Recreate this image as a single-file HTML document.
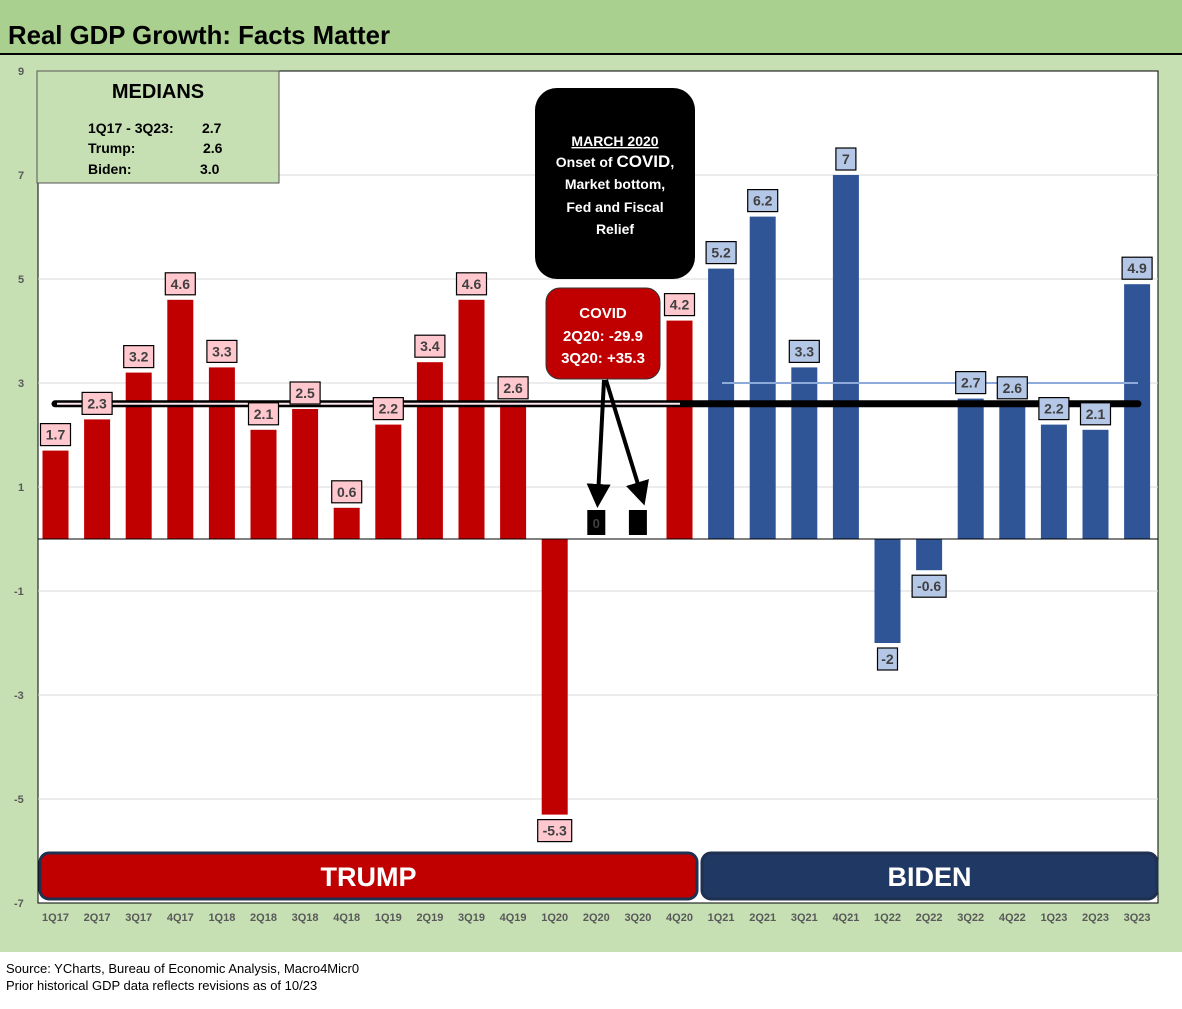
<!DOCTYPE html>
<html><head><meta charset="utf-8">
<style>
html,body{margin:0;padding:0;background:#fff;}
body{width:1182px;height:1004px;overflow:hidden;font-family:"Liberation Sans",sans-serif;}
svg text{font-family:"Liberation Sans",sans-serif;}
</style></head>
<body>
<svg id="chart" width="1182" height="1004" xmlns="http://www.w3.org/2000/svg">
<rect x="0" y="0" width="1182" height="54" fill="#a9d08e"/>
<line x1="0" y1="54" x2="1182" y2="54" stroke="#000" stroke-width="2"/>
<text x="8" y="44" font-size="26" font-weight="bold" fill="#000" textLength="382" lengthAdjust="spacingAndGlyphs">Real GDP Growth: Facts Matter</text>
<rect x="0" y="55" width="1182" height="897" fill="#c6e0b4"/>
<rect x="38" y="71" width="1120" height="832" fill="#fff" stroke="#000" stroke-width="1"/>
<g id="grid"></g><g id="bars"></g>
<text x="6" y="973" font-size="13" fill="#000">Source: YCharts, Bureau of Economic Analysis, Macro4Micr0</text>
<text x="6" y="990" font-size="13" fill="#000">Prior historical GDP data reflects revisions as of 10/23</text>
</svg>
<script>
const categories=["1Q17","2Q17","3Q17","4Q17","1Q18","2Q18","3Q18","4Q18","1Q19","2Q19","3Q19","4Q19","1Q20","2Q20","3Q20","4Q20","1Q21","2Q21","3Q21","4Q21","1Q22","2Q22","3Q22","4Q22","1Q23","2Q23","3Q23"];
const gdpValues=[1.7,2.3,3.2,4.6,3.3,2.1,2.5,0.6,2.2,3.4,4.6,2.6,-5.3,null,null,4.2,5.2,6.2,3.3,7,-2,-0.6,2.7,2.6,2.2,2.1,4.9];
const yTicks=[9,7,5,3,1,-1,-3,-5,-7];
const trumpMedian=2.6, bidenMedian=3.0;
const NS="http://www.w3.org/2000/svg";
const svg=document.getElementById('chart');
const grid=document.getElementById('grid'), barsG=document.getElementById('bars');
function y(v){return 539-52*v;}
function x(i){return 55.5+41.6*i;}
function mk(tag,attrs,parent){const e=document.createElementNS(NS,tag);for(const k in attrs)e.setAttribute(k,attrs[k]);(parent||svg).appendChild(e);return e;}
yTicks.forEach(t=>{
  if(t!==9&&t!==-7){const l=mk('line',{x1:38,x2:1158,y1:y(t),y2:y(t),stroke:'#d9d9d9','stroke-width':1},grid);
  
  }
  const tx=mk('text',{x:t<0?14:18,y:y(t)+4,'font-size':11,'font-weight':'bold',fill:'#595959'},grid);
  tx.textContent=t;
  
  
});
categories.forEach((c,i)=>{
  const tx=mk('text',{x:x(i),y:921,'font-size':11,'font-weight':'bold',fill:'#595959','text-anchor':'middle'});
  tx.textContent=c;
  
  
});
function banner(x1,x2,fill,label,name){
  const r=mk('rect',{x:x1,y:853,width:x2-x1,height:46,rx:9,fill:fill,stroke:'#1f3050','stroke-width':3});
  
  
  const t=mk('text',{x:(x1+x2)/2,y:886,'font-size':27,'font-weight':'bold',fill:'#fff','text-anchor':'middle'});
  t.textContent=label;
  
  
}
banner(40,697,'#c00000','TRUMP','trump-banner');
banner(702,1157,'#203864','BIDEN','biden-banner');
gdpValues.forEach((v,i)=>{
  if(v===null)return;
  const biden=i>=16;
  const top=Math.min(y(v),y(0)), h=Math.abs(y(v)-y(0));
  const b=mk('rect',{x:x(i)-13,y:top,width:26,height:h,fill:biden?'#2f5597':'#c00000'},barsG);
  
  
});
const z=mk('line',{x1:38,x2:1158,y1:y(0),y2:y(0),stroke:'#000','stroke-width':1});


const bm=mk('line',{x1:722,x2:1138,y1:y(bidenMedian),y2:y(bidenMedian),stroke:'#8eaadb','stroke-width':2});


const tm=mk('line',{x1:55,x2:1138,y1:y(trumpMedian),y2:y(trumpMedian),stroke:'#000','stroke-width':7,'stroke-linecap':'round'});


const tmi=mk('line',{x1:57,x2:680,y1:y(trumpMedian),y2:y(trumpMedian),stroke:'#fbe4ea','stroke-width':2});


gdpValues.forEach((v,i)=>{
  if(v===null)return;
  const biden=i>=16;
  const txt=String(v);
  const w=txt.length>=4?34:(txt.length==3?30:20);
  const cy=v>=0?y(v)-16:y(v)+16;
  const r=mk('rect',{x:x(i)-w/2,y:cy-11,width:w,height:22,fill:biden?'#b4c7e7':'#ffc7ce',stroke:'#000','stroke-width':1.2});
  
  
  const t=mk('text',{x:x(i),y:cy+5,'font-size':14,'font-weight':'bold',fill:'#404040','text-anchor':'middle'});
  t.textContent=txt;
  
  
});
const m1=mk('rect',{x:x(13)-9,y:510,width:18,height:25,fill:'#000'});


const m1t=mk('text',{x:x(13),y:528,'font-size':13,'font-weight':'bold',fill:'#404040','text-anchor':'middle'});
m1t.textContent='0';


const m2=mk('rect',{x:x(14)-9,y:510,width:18,height:25,fill:'#000'});


</script>
<svg style="position:absolute;left:0;top:0" width="1182" height="1004" xmlns="http://www.w3.org/2000/svg">
<defs><marker id="ah" markerWidth="6" markerHeight="6" refX="3" refY="3" orient="auto"><path d="M0,0 L6,3 L0,6 z" fill="#000"/></marker></defs>
<line x1="604" y1="380" x2="598" y2="496" stroke="#000" stroke-width="4" marker-end="url(#ah)"/>
<line x1="606" y1="380" x2="641" y2="494" stroke="#000" stroke-width="4" marker-end="url(#ah)"/>
<rect x="37" y="71" width="242" height="112" fill="#c6e0b4" stroke="#555" stroke-width="1"/>
<text x="158" y="98" font-size="20" font-weight="bold" text-anchor="middle" font-family="Liberation Sans">MEDIANS</text>
<g font-size="14" font-weight="bold" font-family="Liberation Sans">
<text x="88" y="133">1Q17 - 3Q23:</text><text x="202" y="133">2.7</text>
<text x="88" y="153">Trump:</text><text x="203" y="153">2.6</text>
<text x="88" y="174">Biden:</text><text x="200" y="174">3.0</text>
</g>
<rect x="535" y="88" width="160" height="191" rx="22" fill="#000"/>
<g fill="#fff" font-size="14" font-weight="bold" text-anchor="middle" font-family="Liberation Sans">
<text x="615" y="146" text-decoration="underline">MARCH 2020</text>
<text x="615" y="167">Onset of <tspan font-size="17">COVID</tspan>,</text>
<text x="615" y="189">Market bottom,</text>
<text x="615" y="212">Fed and Fiscal</text>
<text x="615" y="234">Relief</text>
</g>
<rect x="546" y="288" width="114" height="91" rx="14" fill="#c00000" stroke="#333" stroke-width="1"/>
<g fill="#fff" font-size="15" font-weight="bold" text-anchor="middle" font-family="Liberation Sans">
<text x="603" y="318">COVID</text>
<text x="603" y="341">2Q20: -29.9</text>
<text x="603" y="363">3Q20: +35.3</text>
</g>
</svg>
</body></html>
